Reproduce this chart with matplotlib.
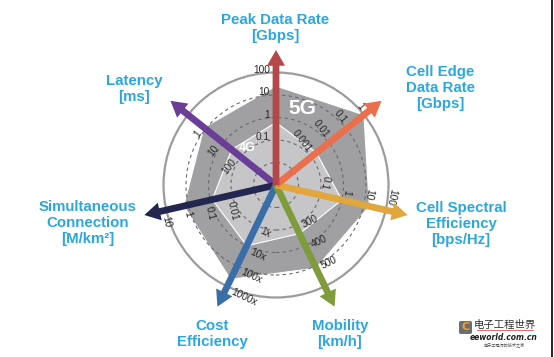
import numpy as np
import matplotlib.pyplot as plt
from matplotlib.patches import Polygon, Circle, FancyArrow, FancyBboxPatch

# axes of the radar, clockwise from the top
axis_names = ["Peak Data Rate\n[Gbps]", "Cell Edge\nData Rate\n[Gbps]",
              "Cell Spectral\nEfficiency\n[bps/Hz]", "Mobility\n[km/h]",
              "Cost\nEfficiency", "Simultaneous\nConnection\n[M/km²]",
              "Latency\n[ms]"]
axis_colors = ["#b4474a", "#e96f4d", "#e1a73c", "#7f9b3b",
               "#3a6ea9", "#23264e", "#6a3e97"]
tick_labels = [["0.1", "1", "10", "100"],
               ["0.001", "0.01", "0.1", "1"],
               ["0.1", "1", "10", "100"],
               ["300", "400", "500"],
               ["1x", "10x", "100x", "1000x"],
               ["0.01", "0.1", "1", "10"],
               ["100", "10", "1"]]
tick_values = [[0.1, 1, 10, 100],
               [0.001, 0.01, 0.1, 1],
               [0.1, 1, 10, 100],
               [300, 400, 500],
               [1, 10, 100, 1000],
               [0.01, 0.1, 1, 10],
               [100, 10, 1]]
axis_scale = ["log", "log", "log", "linear", "log", "log", "log"]

# values
values_4g = [0.6, 0.002, 1, 340, 10, 0.08, 30]
values_5g = [25, 1, 18, 510, 450, 1.6, 0.8]

# geometry (pixels of the reference)
W, H = 554, 357
cx, cy = 276, 185
unit = 22.5            # pixels per ring
n_axes = len(axis_names)
angles = np.deg2rad(90 - np.arange(n_axes) * 360 / n_axes)


def P(x, y):
    return (x - cx) / unit, (cy - y) / unit


def to_level(i, v):
    t = np.array(tick_values[i], float)
    f = np.log10 if axis_scale[i] == "log" else (lambda a: np.asarray(a, float))
    return 2 + (f(v) - f(t[0])) / (f(t[1]) - f(t[0]))


fig = plt.figure(figsize=(W / 100, H / 100), dpi=100, facecolor="white")
ax = fig.add_axes([0, 0, 1, 1])
ax.set_xlim(-cx / unit, (W - cx) / unit)
ax.set_ylim(-(H - cy) / unit, cy / unit)
ax.axis("off")


def polygon(vals, color, z):
    lv = np.array([to_level(i, v) for i, v in enumerate(vals)])
    pts = np.column_stack([lv * np.cos(angles), lv * np.sin(angles)])
    ax.add_patch(Polygon(pts, closed=True, facecolor=color,
                         edgecolor="white", lw=0.8, zorder=z))


polygon(values_5g, "#a0a0a3", 1)
polygon(values_4g, "#c6c6c9", 2)

# rings
for r in [1, 2, 3, 4]:
    ax.add_patch(Circle((0, 0), r, fill=False, ls=(0, (3, 3)),
                        ec="#6a6a6d", lw=0.8, zorder=3))
ax.add_patch(Circle((0, 0), 5, fill=False, ec="#9c9c9f", lw=1.6, zorder=3))

ax.text(*P(302, 108), "5G", color="white", fontsize=15, fontweight="bold",
        family="Liberation Sans", ha="center", va="center", zorder=4)
ax.text(*P(247, 148), "4G", color="white", fontsize=9, fontweight="bold",
        family="Liberation Sans", ha="center", va="center", zorder=4)

# tick labels on the ccw side of each axis
for i, a in enumerate(angles):
    u = np.array([np.cos(a), np.sin(a)])
    nrm = np.array([-np.sin(a), np.cos(a)])
    rot = (np.degrees(a) - 90 + 180) % 360 - 180
    flipped = False
    if rot > 90:
        rot -= 180
        flipped = True
    elif rot < -110:
        rot += 180
        flipped = True
    for k, lab in enumerate(tick_labels[i]):
        pos = (2 + k + 0.12) * u + 0.27 * nrm
        ax.text(pos[0], pos[1], lab, fontsize=7.3, color="#262626",
                family="Liberation Sans", rotation=rot, rotation_mode="anchor",
                ha="left" if flipped else "right", va="center", zorder=5)

# arrows
arrow_len = 6.0
for i in [6, 5, 4, 3, 2, 1, 0]:
    a = angles[i]
    ax.add_patch(FancyArrow(0, 0, arrow_len * np.cos(a), arrow_len * np.sin(a),
                            width=0.3, head_width=0.8, head_length=0.7,
                            length_includes_head=True, color=axis_colors[i],
                            lw=0, zorder=6))

# axis titles
label_pos = [(275, 28), (440, 88), (461, 224), (340, 334),
             (212, 334), (88, 223), (134, 89)]
for name, (x, y) in zip(axis_names, label_pos):
    ax.text(*P(x, y), name, color="#2aa7df", fontsize=10.8, fontweight="bold",
            family="Liberation Sans", ha="center", va="center",
            linespacing=1.15, zorder=7)

# watermark
ax.add_patch(FancyBboxPatch(P(459, 334), 13 / unit, 13 / unit,
                            boxstyle="round,pad=0,rounding_size=0.08",
                            fc="#6d6e70", ec="none", zorder=7))
ax.text(*P(465.5, 327.5), "C", color="#f0a030", fontsize=8, fontweight="bold",
        ha="center", va="center", zorder=8)
ax.text(*P(505, 325), "电子工程世界", color="#333333", fontsize=7.5,
        family=["Noto Sans CJK SC", "DejaVu Sans"], ha="center", va="center",
        zorder=8)
ax.plot([P(477, 330)[0], P(533, 330)[0]], [P(477, 330)[1]] * 2,
        color="#d9534f", lw=0.6, zorder=8)
ax.text(*P(504, 337), "eeworld.com.cn", color="#222222", fontsize=5.5,
        style="italic", fontweight="bold", ha="center", va="center", zorder=8)
ax.text(*P(504, 345), "电子工程师的技术之家", color="#555555", fontsize=3,
        family=["Noto Sans CJK SC", "DejaVu Sans"], ha="center", va="center",
        zorder=8)
ax.plot([P(551.5, 0)[0]] * 2, [P(0, 0)[1], P(0, H)[1]], color="black",
        lw=1.2, zorder=8)

fig.savefig("out.png", dpi=100, facecolor="white")
